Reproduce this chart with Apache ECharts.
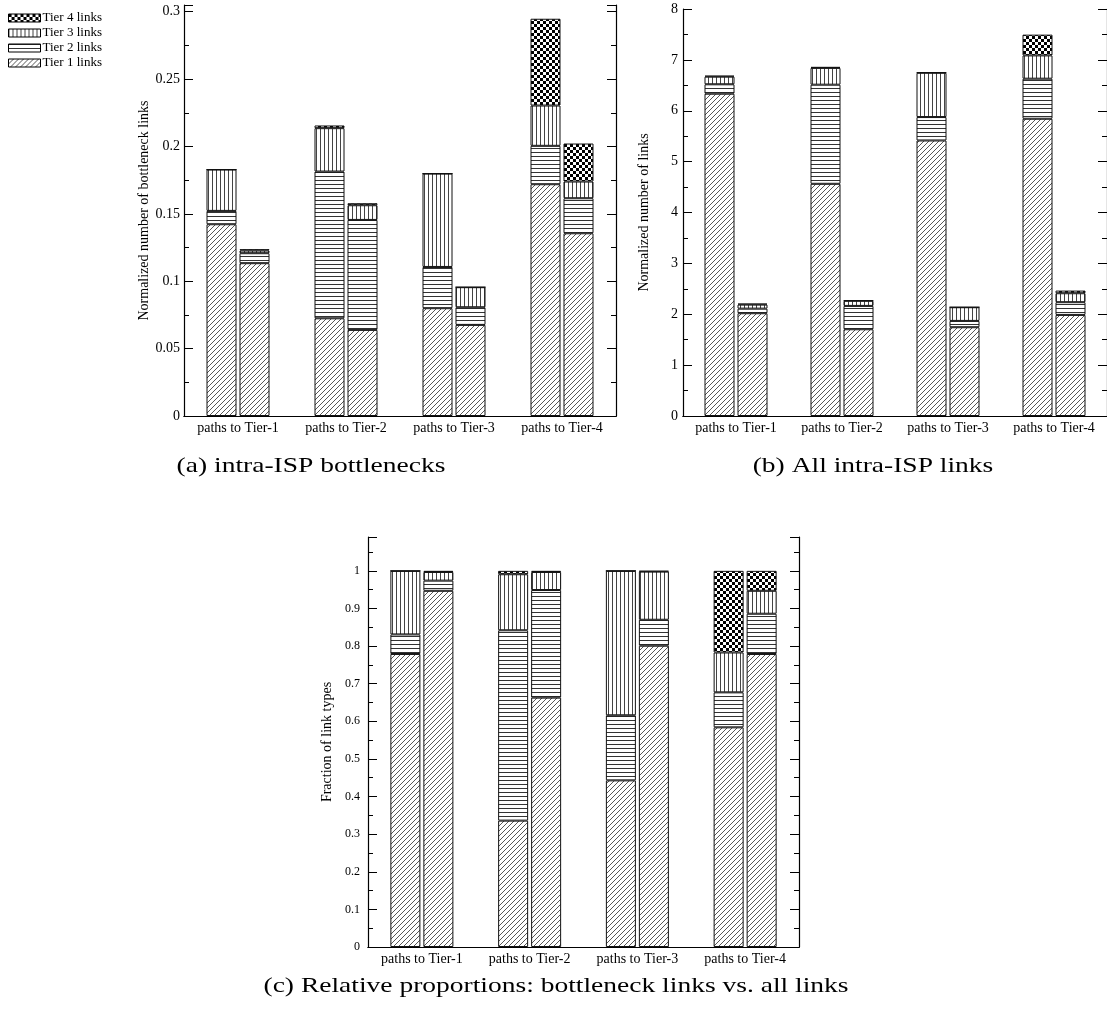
<!DOCTYPE html>
<html>
<head>
<meta charset="utf-8">
<script src="https://cdn.jsdelivr.net/npm/echarts@6/dist/echarts.min.js"></script>
<style>
  html, body { margin: 0; padding: 0; background: #fff; }
  #chart { width: 1107px; height: 1019px; }
</style>
</head>
<body>
<div id="chart"></div>
<script>
// Groups of paths, each drawn as a pair of stacked bars
const categories = ['paths to Tier-1', 'paths to Tier-2', 'paths to Tier-3', 'paths to Tier-4'];
const tierNames = ['Tier 1 links', 'Tier 2 links', 'Tier 3 links', 'Tier 4 links'];

// (a) Normalized number of bottleneck links (segment heights per tier)
const bnLeftT1 = [0.1423, 0.0725, 0.0800, 0.1720];
const bnLeftT2 = [0.0099, 0.1089, 0.0306, 0.0285];
const bnLeftT3 = [0.0307, 0.0322, 0.0693, 0.0299];
const bnLeftT4 = [0, 0.0020, 0, 0.0644];
const bnRightT1 = [0.1134, 0.0639, 0.0676, 0.1356];
const bnRightT2 = [0.0074, 0.0816, 0.0131, 0.0260];
const bnRightT3 = [0.0020, 0.0109, 0.0149, 0.0124];
const bnRightT4 = [0.0010, 0.0015, 0, 0.0282];

// (b) Normalized number of links (all intra-ISP links)
const allLeftT1 = [6.335, 4.564, 5.416, 5.843];
const allLeftT2 = [0.185, 1.948, 0.460, 0.787];
const allLeftT3 = [0.150, 0.330, 0.870, 0.458];
const allLeftT4 = [0.020, 0.020, 0.010, 0.408];
const allRightT1 = [2.020, 1.705, 1.745, 1.987];
const allRightT2 = [0.090, 0.459, 0.124, 0.250];
const allRightT3 = [0.080, 0.100, 0.269, 0.176];
const allRightT4 = [0.020, 0.010, 0, 0.052];

// (c) Fraction of link types: bottleneck links (left) vs. all links (right)
const fracLeftT1 = [0.779, 0.336, 0.443, 0.584];
const fracLeftT2 = [0.052, 0.506, 0.173, 0.093];
const fracLeftT3 = [0.169, 0.149, 0.384, 0.106];
const fracLeftT4 = [0, 0.009, 0, 0.217];
const fracRightT1 = [0.947, 0.663, 0.801, 0.779];
const fracRightT2 = [0.027, 0.286, 0.069, 0.107];
const fracRightT3 = [0.023, 0.048, 0.128, 0.061];
const fracRightT4 = [0.003, 0.003, 0.002, 0.053];

const serif = "'Liberation Serif', 'Times New Roman', serif";

// Hatch fills, one per tier
function tile(w, h, draw) {
  const c = document.createElement('canvas');
  c.width = w; c.height = h;
  const g = c.getContext('2d');
  g.fillStyle = '#fff';
  g.fillRect(0, 0, w, h);
  draw(g, w, h);
  return { image: c, repeat: 'repeat' };
}
const fills = [
  tile(5, 5, (g, w, h) => {            // diagonal hatch
    g.strokeStyle = '#444';
    g.lineWidth = 0.9;
    for (let x0 = -w; x0 <= w; x0 += w) {
      g.beginPath(); g.moveTo(x0, h); g.lineTo(x0 + h, 0); g.stroke();
    }
  }),
  tile(4, 4, (g) => {                  // horizontal lines
    g.fillStyle = '#333';
    g.fillRect(0, 0, 4, 1);
  }),
  tile(4, 4, (g) => {                  // vertical lines
    g.fillStyle = '#444';
    g.fillRect(0, 0, 1, 4);
  }),
  tile(6, 6, (g) => {                  // checkerboard
    g.fillStyle = '#000';
    g.fillRect(0, 0, 3, 3);
    g.fillRect(3, 3, 3, 3);
  })
];

function stack(gi, side, tiers) {
  return tiers.map((data, i) => ({
    type: 'bar',
    name: tierNames[i],
    xAxisIndex: gi * 2,
    yAxisIndex: gi * 2,
    stack: 'g' + gi + side,
    barWidth: 30,
    barGap: '10%',
    data: data,
    itemStyle: { color: fills[i], borderColor: '#111', borderWidth: 1 },
    emphasis: { disabled: true }
  }));
}

function isStep(v, step) {
  const r = v / step;
  return Math.abs(r - Math.round(r)) < 1e-6;
}

function yAxes(gi, cfg) {
  const common = {
    type: 'value', gridIndex: gi, min: 0, max: cfg.max, interval: cfg.interval,
    splitLine: { show: false },
    axisLine: { show: true, lineStyle: { color: '#000', width: 1.2 } },
    axisTick: { show: true, inside: true, length: 9, lineStyle: { color: '#000' } },
    minorTick: { show: true, splitNumber: 2, length: 5, lineStyle: { color: '#000' } },
    minorSplitLine: { show: false }
  };
  return [
    Object.assign({}, common, {
      position: 'left',
      name: cfg.name, nameLocation: 'middle', nameGap: cfg.nameGap,
      nameTextStyle: { fontFamily: serif, fontSize: 14, color: '#000' },
      axisLabel: {
        fontFamily: serif, fontSize: cfg.labelSize, color: '#000', margin: cfg.margin,
        formatter: v => (isStep(v, cfg.interval) && v <= cfg.lastLabel + 1e-9) ? String(+v.toFixed(2)) : ''
      }
    }),
    Object.assign({}, common, { position: 'right', axisLabel: { show: false } })
  ];
}

function xAxes(gi) {
  return [
    {
      type: 'category', gridIndex: gi, data: categories, position: 'bottom',
      axisLine: { lineStyle: { color: '#000', width: 1.2 } },
      axisTick: { inside: true, alignWithLabel: true, length: 10, lineStyle: { color: '#333', width: 2 } },
      axisLabel: { interval: 0, fontFamily: serif, fontSize: 14, color: '#000', margin: 5 }
    },
    {
      type: 'category', gridIndex: gi, data: categories, position: 'top',
      axisLine: { lineStyle: { color: '#000', width: 1.2 } },
      axisTick: { inside: true, alignWithLabel: true, length: 10, lineStyle: { color: '#000' } },
      axisLabel: { show: false }
    }
  ];
}

const option = {
  animation: false,
  backgroundColor: '#fff',
  legend: {
    orient: 'vertical', left: 8, top: 11, padding: 0,
    icon: 'rect',
    itemWidth: 32, itemHeight: 8, itemGap: 1,
    selectedMode: false,
    itemStyle: { borderColor: '#000', borderWidth: 1 },
    data: ['Tier 4 links', 'Tier 3 links', 'Tier 2 links', 'Tier 1 links'],
    textStyle: { fontFamily: serif, fontSize: 13, color: '#000', lineHeight: 14, padding: [0, 0, 0, -3] }
  },
  grid: [
    { left: 184, top: 5, width: 432, height: 411 },
    { left: 683, top: 9, width: 427, height: 407 },
    { left: 368, top: 537, width: 431, height: 410 }
  ],
  xAxis: [].concat(xAxes(0), xAxes(1), xAxes(2)),
  yAxis: [].concat(
    yAxes(0, { max: 0.305, interval: 0.05, lastLabel: 0.3, labelSize: 14, margin: 4,
               name: 'Normalized number of bottleneck links', nameGap: 33 }),
    yAxes(1, { max: 8, interval: 1, lastLabel: 8, labelSize: 14, margin: 5,
               name: 'Normalized number of links', nameGap: 32 }),
    yAxes(2, { max: 1.09, interval: 0.1, lastLabel: 1.0, labelSize: 12, margin: 8,
               name: 'Fraction of link types', nameGap: 34 })
  ),
  series: [].concat(
    stack(0, 'L', [bnLeftT1, bnLeftT2, bnLeftT3, bnLeftT4]),
    stack(0, 'R', [bnRightT1, bnRightT2, bnRightT3, bnRightT4]),
    stack(1, 'L', [allLeftT1, allLeftT2, allLeftT3, allLeftT4]),
    stack(1, 'R', [allRightT1, allRightT2, allRightT3, allRightT4]),
    stack(2, 'L', [fracLeftT1, fracLeftT2, fracLeftT3, fracLeftT4]),
    stack(2, 'R', [fracRightT1, fracRightT2, fracRightT3, fracRightT4])
  ),
  graphic: [
    { type: 'text', x: 311, y: 466, scaleX: 1.25,
      style: { text: '(a) intra-ISP bottlenecks', fontFamily: serif, fontSize: 22, fill: '#000', align: 'center', verticalAlign: 'middle' } },
    { type: 'text', x: 873, y: 466, scaleX: 1.25,
      style: { text: '(b) All intra-ISP links', fontFamily: serif, fontSize: 22, fill: '#000', align: 'center', verticalAlign: 'middle' } },
    { type: 'text', x: 556, y: 986, scaleX: 1.25,
      style: { text: '(c) Relative proportions: bottleneck links vs. all links', fontFamily: serif, fontSize: 22, fill: '#000', align: 'center', verticalAlign: 'middle' } }
  ]
};

const chart = echarts.init(document.getElementById('chart'), null, { renderer: 'canvas' });
chart.setOption(option);
</script>
</body>
</html>
